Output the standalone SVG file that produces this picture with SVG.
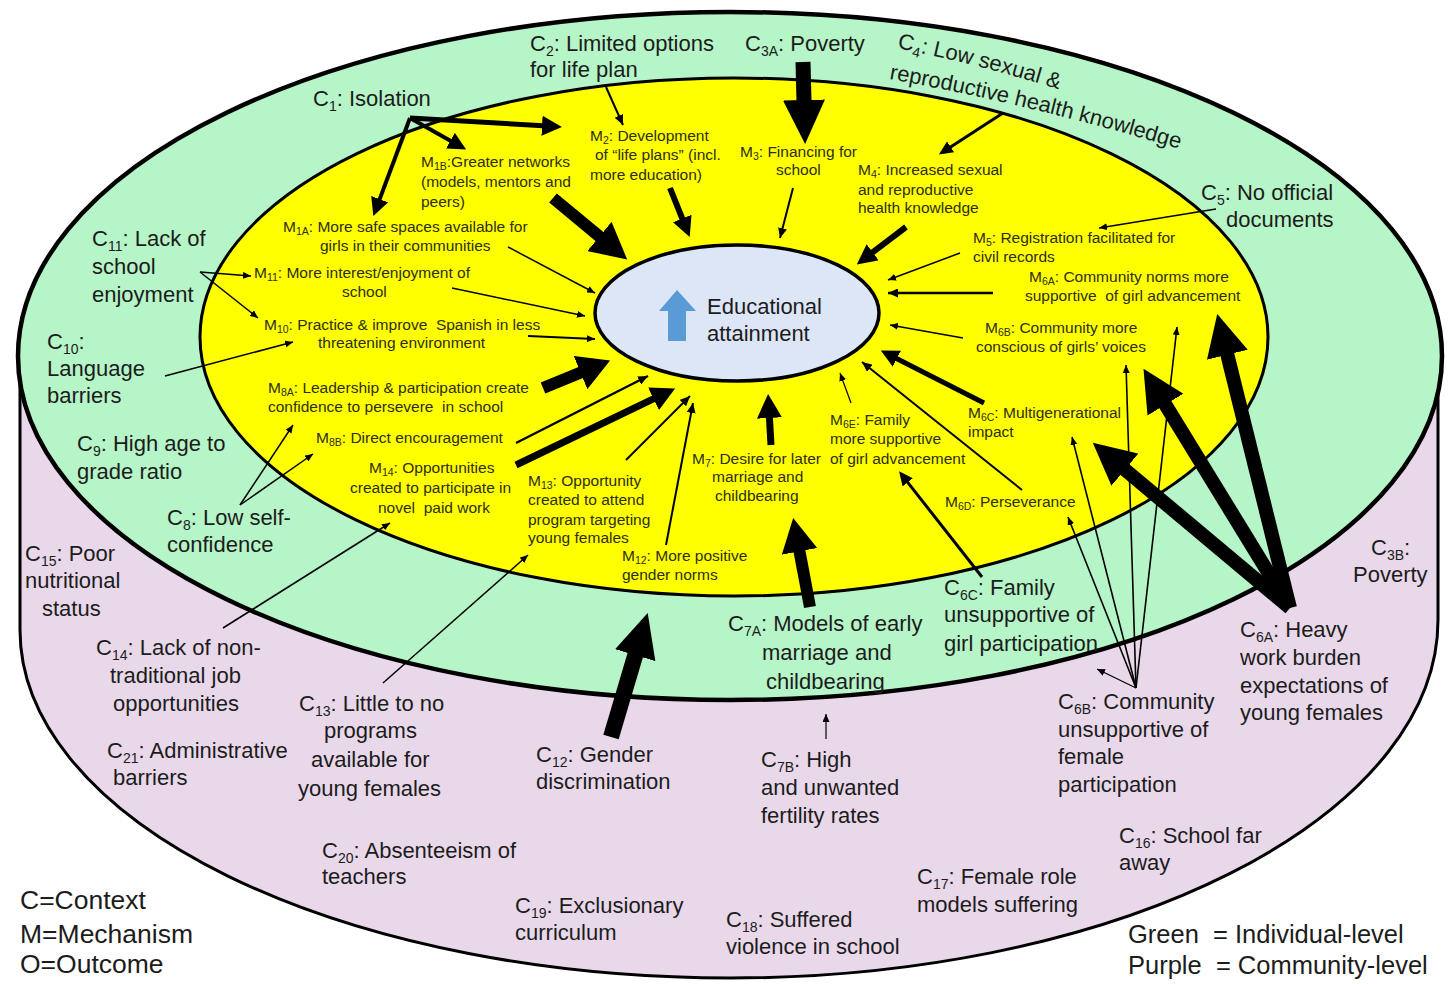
<svg xmlns="http://www.w3.org/2000/svg" width="1448" height="984" viewBox="0 0 1448 984">
<style>
.c{font-family:"Liberation Sans",Arial,sans-serif;font-size:22px;fill:#1c1c1c}
.m{font-family:"Liberation Sans",Arial,sans-serif;font-size:15.5px;fill:#2e2e14}
.cs{font-size:14px}
.ms{font-size:10.5px}
.lg{font-family:"Liberation Sans",Arial,sans-serif;font-size:26.5px;fill:#1c1c1c}
.lg2{font-family:"Liberation Sans",Arial,sans-serif;font-size:25.5px;fill:#1c1c1c;white-space:pre}
.pre{white-space:pre}
.ln{stroke:#000;fill:none;stroke-linecap:butt}
.hd{fill:#000}
</style>
<defs>
<marker id="hBig" markerUnits="userSpaceOnUse" orient="auto" viewBox="0 -21 44 42" markerWidth="44" markerHeight="42" refX="1" refY="0"><path class="hd" d="M0,-21 L44,0 L0,21 Z"/></marker>
<marker id="hC6" markerUnits="userSpaceOnUse" orient="auto" viewBox="0 -21 42 42" markerWidth="42" markerHeight="42" refX="1" refY="0"><path class="hd" d="M0,-21 L42,0 L0,21 Z"/></marker>
<marker id="h7A" markerUnits="userSpaceOnUse" orient="auto" viewBox="0 -18 34 36" markerWidth="34" markerHeight="36" refX="1" refY="0"><path class="hd" d="M0,-18 L34,0 L0,18 Z"/></marker>
<marker id="hM1B" markerUnits="userSpaceOnUse" orient="auto" viewBox="0 -19 36 38" markerWidth="36" markerHeight="38" refX="1" refY="0"><path class="hd" d="M0,-19 L36,0 L0,19 Z"/></marker>
<marker id="hM8A" markerUnits="userSpaceOnUse" orient="auto" viewBox="0 -18 32 36" markerWidth="32" markerHeight="36" refX="1" refY="0"><path class="hd" d="M0,-18 L32,0 L0,18 Z"/></marker>
<marker id="hMed" markerUnits="userSpaceOnUse" orient="auto" viewBox="0 -12.5 24 25" markerWidth="24" markerHeight="25" refX="1" refY="0"><path class="hd" d="M0,-12.5 L24,0 L0,12.5 Z"/></marker>
<marker id="hM2" markerUnits="userSpaceOnUse" orient="auto" viewBox="0 -10 20 20" markerWidth="20" markerHeight="20" refX="1" refY="0"><path class="hd" d="M0,-10 L20,0 L0,10 Z"/></marker>
<marker id="hM6C" markerUnits="userSpaceOnUse" orient="auto" viewBox="0 -9 18 18" markerWidth="18" markerHeight="18" refX="1" refY="0"><path class="hd" d="M0,-9 L18,0 L0,9 Z"/></marker>
<marker id="hS3" markerUnits="userSpaceOnUse" orient="auto" viewBox="0 -6.5 14 13" markerWidth="14" markerHeight="13" refX="1" refY="0"><path class="hd" d="M0,-6.5 L14,0 L0,6.5 Z"/></marker>
<marker id="hT2" markerUnits="userSpaceOnUse" orient="auto" viewBox="0 -4.5 10 9" markerWidth="10" markerHeight="9" refX="10" refY="0"><path class="hd" d="M0,-4.5 L10,0 L0,4.5 Z"/></marker>
<marker id="hT1" markerUnits="userSpaceOnUse" orient="auto" viewBox="0 -3.5 8 7" markerWidth="8" markerHeight="7" refX="8" refY="0"><path class="hd" d="M0,-3.5 L8,0 L0,3.5 Z"/></marker>
<path id="c4p1" d="M897,48 Q985,66 1068,92"/>
<path id="c4p2" d="M889,79 Q1040,106 1196,154"/>
</defs>

<g id="layers">
<path id="community-level" d="M20,356 L20,630 A710,348 0 0 0 730,978 A708,358 0 0 0 1438,620 L1438,356 Z" fill="#e9d8ea" stroke="#000" stroke-width="3"/>
<ellipse id="individual-level" cx="730" cy="356" rx="712" ry="344" fill="#b6f5c7" stroke="#000" stroke-width="4.5"/>
<ellipse id="mechanism-level" cx="734" cy="337" rx="534" ry="259" fill="#ffff00" stroke="#000" stroke-width="3"/>
</g>

<g id="O_educational_attainment">
<ellipse cx="737" cy="313" rx="142" ry="68" fill="#dce6f6" stroke="#000" stroke-width="3.5"/>
<polygon points="677,290 659,311 668,311 668,341 686,341 686,311 696,311" fill="#5b9bd5"/>
<text class="c" x="707" y="314" font-size="21">Educational</text>
<text class="c" x="707" y="341" font-size="21">attainment</text>
</g>

<g id="connectors">
<line class="ln" x1="803" y1="62" x2="804" y2="101" stroke-width="15" marker-end="url(#hBig)"/>
<line class="ln" x1="611" y1="737" x2="635.5" y2="654.2" stroke-width="16" marker-end="url(#hBig)"/>
<line class="ln" x1="810" y1="607" x2="799.3" y2="550.4" stroke-width="12" marker-end="url(#h7A)"/>
<line class="ln" x1="1290" y1="608" x2="1124.2" y2="469" stroke-width="14" marker-end="url(#hC6)"/>
<line class="ln" x1="1290" y1="608" x2="1164.9" y2="403.8" stroke-width="14" marker-end="url(#hC6)"/>
<line class="ln" x1="1290" y1="608" x2="1227.1" y2="353.8" stroke-width="14" marker-end="url(#hC6)"/>
<line class="ln" x1="410" y1="118" x2="379.3" y2="200.1" stroke-width="4" marker-end="url(#hM6C)"/>
<line class="ln" x1="410" y1="118" x2="451.3" y2="141.2" stroke-width="4" marker-end="url(#hM6C)"/>
<line class="ln" x1="410" y1="118" x2="543" y2="125.8" stroke-width="5" marker-end="url(#hM2)"/>
<line class="ln" x1="606" y1="87" x2="623" y2="125" stroke-width="2" marker-end="url(#hT2)"/>
<line class="ln" x1="1003" y1="113" x2="949.8" y2="147.4" stroke-width="3" marker-end="url(#hS3)"/>
<line class="ln" x1="1216" y1="209" x2="1099" y2="228" stroke-width="1.5" marker-end="url(#hT1)"/>
<line class="ln" x1="200" y1="272" x2="251" y2="276" stroke-width="1.5" marker-end="url(#hT1)"/>
<line class="ln" x1="200" y1="272" x2="258" y2="318" stroke-width="1.5" marker-end="url(#hT1)"/>
<line class="ln" x1="165" y1="376" x2="293" y2="342" stroke-width="1.5" marker-end="url(#hT1)"/>
<line class="ln" x1="240" y1="505" x2="293" y2="425" stroke-width="1.5" marker-end="url(#hT1)"/>
<line class="ln" x1="240" y1="505" x2="313" y2="454" stroke-width="1.5" marker-end="url(#hT1)"/>
<line class="ln" x1="223" y1="628" x2="390" y2="523" stroke-width="1.5" marker-end="url(#hT1)"/>
<line class="ln" x1="383" y1="683" x2="528" y2="555" stroke-width="1.5" marker-end="url(#hT1)"/>
<line class="ln" x1="826" y1="739" x2="826" y2="714" stroke-width="1.2" marker-end="url(#hT1)"/>
<line class="ln" x1="982" y1="577" x2="907.1" y2="481.6" stroke-width="3" marker-end="url(#hS3)"/>
<line class="ln" x1="1136" y1="688" x2="1068" y2="517" stroke-width="1.6" marker-end="url(#hT1)"/>
<line class="ln" x1="1136" y1="688" x2="1072" y2="437" stroke-width="1.6" marker-end="url(#hT1)"/>
<line class="ln" x1="1136" y1="688" x2="1126" y2="365" stroke-width="1.6" marker-end="url(#hT1)"/>
<line class="ln" x1="1136" y1="688" x2="1177" y2="327" stroke-width="1.6" marker-end="url(#hT1)"/>
<line class="ln" x1="1136" y1="688" x2="1097" y2="669" stroke-width="1.2" marker-end="url(#hT1)"/>
<line class="ln" x1="553" y1="198" x2="600.2" y2="237.1" stroke-width="12" marker-end="url(#hM1B)"/>
<line class="ln" x1="670" y1="188" x2="682.6" y2="219.4" stroke-width="6" marker-end="url(#hM2)"/>
<line class="ln" x1="793" y1="188" x2="780" y2="238" stroke-width="2" marker-end="url(#hT2)"/>
<line class="ln" x1="906" y1="227" x2="871.9" y2="252.9" stroke-width="6" marker-end="url(#hM2)"/>
<line class="ln" x1="508" y1="247" x2="595" y2="293" stroke-width="1.5" marker-end="url(#hT1)"/>
<line class="ln" x1="452" y1="288" x2="585" y2="316" stroke-width="1.5" marker-end="url(#hT1)"/>
<line class="ln" x1="528" y1="336" x2="595" y2="339" stroke-width="2" marker-end="url(#hT1)"/>
<line class="ln" x1="543" y1="388" x2="581.4" y2="372.2" stroke-width="12" marker-end="url(#hM8A)"/>
<line class="ln" x1="516" y1="443" x2="648" y2="376" stroke-width="2.5" marker-end="url(#hT2)"/>
<line class="ln" x1="516" y1="465" x2="654.4" y2="398.4" stroke-width="7" marker-end="url(#hMed)"/>
<line class="ln" x1="626" y1="460" x2="690" y2="396" stroke-width="2" marker-end="url(#hT2)"/>
<line class="ln" x1="666" y1="545" x2="693" y2="403" stroke-width="2" marker-end="url(#hT2)"/>
<line class="ln" x1="771" y1="445" x2="769.4" y2="417" stroke-width="7" marker-end="url(#hMed)"/>
<line class="ln" x1="851" y1="403" x2="840" y2="373" stroke-width="1.2" marker-end="url(#hT1)"/>
<line class="ln" x1="1022" y1="490" x2="862" y2="362" stroke-width="2" marker-end="url(#hT2)"/>
<line class="ln" x1="984" y1="403" x2="896" y2="358.2" stroke-width="5" marker-end="url(#hM6C)"/>
<line class="ln" x1="963" y1="338" x2="890" y2="325" stroke-width="1.5" marker-end="url(#hT1)"/>
<line class="ln" x1="993" y1="293" x2="888" y2="293" stroke-width="2.5" marker-end="url(#hT2)"/>
<line class="ln" x1="960" y1="253" x2="888" y2="280" stroke-width="1.5" marker-end="url(#hT1)"/>
</g>

<g id="C1"><text class="c" x="313" y="106">C<tspan class="cs" dy="5">1</tspan><tspan dy="-5">: Isolation</tspan></text></g>
<g id="C2"><text class="c" x="530" y="51">C<tspan class="cs" dy="5">2</tspan><tspan dy="-5">: Limited options</tspan></text><text class="c" x="530" y="77">for life plan</text></g>
<g id="C3A"><text class="c" x="745" y="51">C<tspan class="cs" dy="5">3A</tspan><tspan dy="-5">: Poverty</tspan></text></g>
<g id="C4"><text class="c"><textPath href="#c4p1">C<tspan class="cs" dy="5">4</tspan><tspan dy="-5">: Low sexual &amp;</tspan></textPath></text><text class="c"><textPath href="#c4p2">reproductive health knowledge</textPath></text></g>
<g id="C5"><text class="c" x="1201" y="200">C<tspan class="cs" dy="5">5</tspan><tspan dy="-5">: No official</tspan></text><text class="c" x="1226" y="227">documents</text></g>
<g id="C11"><text class="c" x="92" y="246">C<tspan class="cs" dy="5">11</tspan><tspan dy="-5">: Lack of</tspan></text><text class="c" x="92" y="274">school</text><text class="c" x="92" y="302">enjoyment</text></g>
<g id="C10"><text class="c" x="47" y="349">C<tspan class="cs" dy="5">10</tspan><tspan dy="-5">:</tspan></text><text class="c" x="47" y="376">Language</text><text class="c" x="47" y="403">barriers</text></g>
<g id="C9"><text class="c" x="77" y="451">C<tspan class="cs" dy="5">9</tspan><tspan dy="-5">: High age to</tspan></text><text class="c" x="77" y="479">grade ratio</text></g>
<g id="C8"><text class="c" x="167" y="525">C<tspan class="cs" dy="5">8</tspan><tspan dy="-5">: Low self-</tspan></text><text class="c" x="167" y="552">confidence</text></g>
<g id="C15"><text class="c" x="25" y="561">C<tspan class="cs" dy="5">15</tspan><tspan dy="-5">: Poor</tspan></text><text class="c" x="25" y="588">nutritional</text><text class="c" x="42" y="616">status</text></g>
<g id="C14"><text class="c" x="96" y="655">C<tspan class="cs" dy="5">14</tspan><tspan dy="-5">: Lack of non-</tspan></text><text class="c" x="110" y="683">traditional job</text><text class="c" x="113" y="711">opportunities</text></g>
<g id="C21"><text class="c" x="107" y="758">C<tspan class="cs" dy="5">21</tspan><tspan dy="-5">: Administrative</tspan></text><text class="c" x="113" y="785">barriers</text></g>
<g id="C13"><text class="c" x="299" y="711">C<tspan class="cs" dy="5">13</tspan><tspan dy="-5">: Little to no</tspan></text><text class="c" x="324" y="738">programs</text><text class="c" x="311" y="767">available for</text><text class="c" x="298" y="796">young females</text></g>
<g id="C20"><text class="c" x="322" y="858">C<tspan class="cs" dy="5">20</tspan><tspan dy="-5">: Absenteeism of</tspan></text><text class="c" x="322" y="884">teachers</text></g>
<g id="C12"><text class="c" x="536" y="762">C<tspan class="cs" dy="5">12</tspan><tspan dy="-5">: Gender</tspan></text><text class="c" x="536" y="789">discrimination</text></g>
<g id="C7A"><text class="c" x="728" y="631">C<tspan class="cs" dy="5">7A</tspan><tspan dy="-5">: Models of early</tspan></text><text class="c" x="762" y="660">marriage and</text><text class="c" x="766" y="689">childbearing</text></g>
<g id="C7B"><text class="c" x="761" y="767">C<tspan class="cs" dy="5">7B</tspan><tspan dy="-5">: High</tspan></text><text class="c" x="761" y="795">and unwanted</text><text class="c" x="761" y="823">fertility rates</text></g>
<g id="C19"><text class="c" x="515" y="913">C<tspan class="cs" dy="5">19</tspan><tspan dy="-5">: Exclusionary</tspan></text><text class="c" x="515" y="940">curriculum</text></g>
<g id="C18"><text class="c" x="726" y="927">C<tspan class="cs" dy="5">18</tspan><tspan dy="-5">: Suffered</tspan></text><text class="c" x="726" y="954">violence in school</text></g>
<g id="C17"><text class="c" x="917" y="884">C<tspan class="cs" dy="5">17</tspan><tspan dy="-5">: Female role</tspan></text><text class="c" x="917" y="912">models suffering</text></g>
<g id="C16"><text class="c" x="1119" y="843">C<tspan class="cs" dy="5">16</tspan><tspan dy="-5">: School far</tspan></text><text class="c" x="1119" y="870">away</text></g>
<g id="C6B"><text class="c" x="1058" y="709">C<tspan class="cs" dy="5">6B</tspan><tspan dy="-5">: Community</tspan></text><text class="c" x="1058" y="737">unsupportive of</text><text class="c" x="1058" y="764">female</text><text class="c" x="1058" y="792">participation</text></g>
<g id="C6A"><text class="c" x="1240" y="637">C<tspan class="cs" dy="5">6A</tspan><tspan dy="-5">: Heavy</tspan></text><text class="c" x="1240" y="665">work burden</text><text class="c" x="1240" y="693">expectations of</text><text class="c" x="1240" y="720">young females</text></g>
<g id="C6C"><text class="c" x="944" y="595">C<tspan class="cs" dy="5">6C</tspan><tspan dy="-5">: Family</tspan></text><text class="c" x="944" y="622">unsupportive of</text><text class="c" x="944" y="651">girl participation</text></g>
<g id="C3B"><text class="c" x="1371" y="555">C<tspan class="cs" dy="5">3B</tspan><tspan dy="-5">:</tspan></text><text class="c" x="1353" y="582">Poverty</text></g>

<g id="M1B"><text class="m" x="421" y="167">M<tspan class="ms" dy="3">1B</tspan><tspan dy="-3">:Greater networks</tspan></text><text class="m" x="421" y="187">(models, mentors and</text><text class="m" x="421" y="207">peers)</text></g>
<g id="M2"><text class="m" x="590" y="141">M<tspan class="ms" dy="3">2</tspan><tspan dy="-3">: Development</tspan></text><text class="m" x="595" y="160">of &#8220;life plans&#8221; (incl.</text><text class="m" x="590" y="180">more education)</text></g>
<g id="M3"><text class="m" x="740" y="157">M<tspan class="ms" dy="3">3</tspan><tspan dy="-3">: Financing for</tspan></text><text class="m" x="776" y="175">school</text></g>
<g id="M4"><text class="m" x="858" y="175">M<tspan class="ms" dy="3">4</tspan><tspan dy="-3">: Increased sexual</tspan></text><text class="m" x="858" y="195">and reproductive</text><text class="m" x="858" y="213">health knowledge</text></g>
<g id="M1A"><text class="m" x="283" y="232">M<tspan class="ms" dy="3">1A</tspan><tspan dy="-3">: More safe spaces available for</tspan></text><text class="m" x="320" y="251">girls in their communities</text></g>
<g id="M11"><text class="m" x="254" y="278">M<tspan class="ms" dy="3">11</tspan><tspan dy="-3">: More interest/enjoyment of</tspan></text><text class="m" x="342" y="297">school</text></g>
<g id="M10"><text class="m pre" x="264" y="330">M<tspan class="ms" dy="3">10</tspan><tspan dy="-3">: Practice &amp; improve  Spanish in less</tspan></text><text class="m" x="318" y="348">threatening environment</text></g>
<g id="M8A"><text class="m" x="268" y="393">M<tspan class="ms" dy="3">8A</tspan><tspan dy="-3">: Leadership &amp; participation create</tspan></text><text class="m pre" x="268" y="412">confidence to persevere  in school</text></g>
<g id="M8B"><text class="m" x="316" y="443">M<tspan class="ms" dy="3">8B</tspan><tspan dy="-3">: Direct encouragement</tspan></text></g>
<g id="M14"><text class="m" x="369" y="473">M<tspan class="ms" dy="3">14</tspan><tspan dy="-3">: Opportunities</tspan></text><text class="m" x="350" y="493">created to participate in</text><text class="m pre" x="378" y="513">novel  paid work</text></g>
<g id="M13"><text class="m" x="528" y="486">M<tspan class="ms" dy="3">13</tspan><tspan dy="-3">: Opportunity</tspan></text><text class="m" x="528" y="505">created to attend</text><text class="m" x="528" y="525">program targeting</text><text class="m" x="528" y="543">young females</text></g>
<g id="M12"><text class="m" x="622" y="561">M<tspan class="ms" dy="3">12</tspan><tspan dy="-3">: More positive</tspan></text><text class="m" x="622" y="580">gender norms</text></g>
<g id="M7"><text class="m" x="692" y="464">M<tspan class="ms" dy="3">7</tspan><tspan dy="-3">: Desire for later</tspan></text><text class="m" x="712" y="482">marriage and</text><text class="m" x="715" y="501">childbearing</text></g>
<g id="M6E"><text class="m" x="830" y="425">M<tspan class="ms" dy="3">6E</tspan><tspan dy="-3">: Family</tspan></text><text class="m" x="830" y="444">more supportive</text><text class="m" x="830" y="464">of girl advancement</text></g>
<g id="M5"><text class="m" x="973" y="243">M<tspan class="ms" dy="3">5</tspan><tspan dy="-3">: Registration facilitated for</tspan></text><text class="m" x="973" y="262">civil records</text></g>
<g id="M6A"><text class="m" x="1029" y="282">M<tspan class="ms" dy="3">6A</tspan><tspan dy="-3">: Community norms more</tspan></text><text class="m pre" x="1025" y="301">supportive  of girl advancement</text></g>
<g id="M6B"><text class="m" x="985" y="333">M<tspan class="ms" dy="3">6B</tspan><tspan dy="-3">: Community more</tspan></text><text class="m" x="976" y="352">conscious of girls&#8217; voices</text></g>
<g id="M6C"><text class="m" x="968" y="418">M<tspan class="ms" dy="3">6C</tspan><tspan dy="-3">: Multigenerational</tspan></text><text class="m" x="968" y="437">impact</text></g>
<g id="M6D"><text class="m" x="945" y="507">M<tspan class="ms" dy="3">6D</tspan><tspan dy="-3">: Perseverance</tspan></text></g>

<g id="legend-codes"><text class="lg" x="20" y="909">C=Context</text><text class="lg" x="20" y="943">M=Mechanism</text><text class="lg" x="20" y="973">O=Outcome</text></g>
<g id="legend-colours"><text class="lg2" x="1128" y="943">Green  = Individual-level</text><text class="lg2" x="1128" y="974">Purple  = Community-level</text></g>
</svg>
